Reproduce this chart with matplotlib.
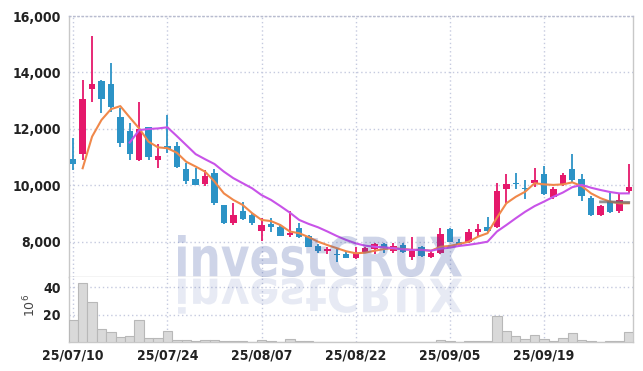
import numpy as np
import matplotlib
matplotlib.use("Agg")
import matplotlib.pyplot as plt
from matplotlib.textpath import TextPath
from matplotlib.patches import PathPatch
from matplotlib.font_manager import FontProperties
from matplotlib.transforms import Affine2D, IdentityTransform
from matplotlib.ticker import FuncFormatter

# daily candles, trading-day index 0..59
opens = [10940, 11100, 13400, 13710, 13590, 12410, 11930, 10900, 12060, 10900,
         11400, 11400, 10570, 10220, 10050, 10450, 9310, 8660, 9110, 8960,
         8400, 8630, 8540, 8250, 8510, 8210, 7870, 7680, 7580, 7580,
         7420, 7620, 7750, 7930, 7690, 7890, 7480, 7810, 7460, 7600,
         8450, 8010, 8010, 8370, 8540, 8520, 9870, 10090, 9910, 10080,
         10410, 9600, 10040, 10580, 10220, 9550, 8960, 9430, 9110, 9820]
highs = [11690, 13730, 15290, 13740, 14330, 12730, 12220, 12970, 12070, 11470,
         12500, 11550, 10810, 10610, 10550, 10570, 9320, 9370, 9430, 9020,
         8840, 8840, 8640, 9100, 8680, 8250, 7920, 7830, 7740, 7680,
         7830, 7830, 7950, 7980, 7980, 7980, 8170, 7860, 7720, 8480,
         8480, 8090, 8460, 8640, 8870, 10080, 10410, 10450, 10200, 10610,
         10690, 9960, 10430, 11120, 10410, 9610, 9310, 9720, 9720, 10760]
lows = [10550, 10900, 12970, 12560, 12610, 11350, 10900, 10880, 10900, 10610,
        11140, 10610, 10050, 10000, 9980, 9310, 8640, 8600, 8780, 8600,
        8050, 8370, 8210, 8190, 8140, 7810, 7620, 7560, 7280, 7420,
        7390, 7600, 7580, 7620, 7600, 7600, 7360, 7460, 7420, 7580,
        7990, 7860, 7950, 8170, 8370, 8480, 9390, 9870, 9510, 9940,
        9660, 9510, 9970, 10140, 9460, 8920, 8930, 9040, 9020, 9720]
closes = [10770, 13060, 13590, 13060, 12790, 11490, 11100, 11990, 11020, 11040,
          11290, 10670, 10170, 10020, 10340, 9370, 8680, 8960, 8810, 8660,
          8600, 8520, 8220, 8330, 8170, 7830, 7690, 7750, 7530, 7440,
          7600, 7780, 7920, 7810, 7860, 7640, 7690, 7520, 7620, 8280,
          8010, 7890, 8340, 8450, 8400, 9800, 10050, 10050, 9880, 10200,
          9700, 9870, 10370, 10200, 9630, 8960, 9270, 9070, 9490, 9940]

# moving average lines as drawn (start index, values)
ma_short_start = 1
ma_short = [10610, 11730, 12320, 12700, 12810, 12410, 12020, 11550, 11350,
            11320, 11160, 10840, 10670, 10490, 10140, 9720, 9490, 9310, 9020,
            8780, 8740, 8600, 8370, 8310, 8170, 8010, 7890, 7780, 7670,
            7600, 7620, 7690, 7750, 7780, 7750, 7720, 7720, 7690, 7830,
            7860, 7930, 8010, 8190, 8310, 8860, 9370, 9600, 9780, 10080,
            10040, 10020, 10040, 10110, 9980, 9720, 9550, 9430, 9370, 9370]
ma_long_start = 6
ma_long = [11520, 11960, 12000, 12020, 12060, 11750, 11430, 11110, 10930,
           10760, 10490, 10260, 10080, 9900, 9660, 9490, 9270, 9040, 8780,
           8640, 8520, 8370, 8210, 8070, 7950, 7870, 7830, 7810, 7780,
           7740, 7720, 7720, 7690, 7760, 7800, 7860, 7900, 7950, 8010,
           8370, 8600, 8840, 9070, 9270, 9430, 9600, 9750, 9940, 10020,
           9920, 9840, 9770, 9720, 9720]
gray_start = 56
gray_line = [9420, 9420, 9410, 9400]

# volume in millions
volume = [16.0, 42.7, 28.9, 9.4, 7.0, 3.5, 4.3, 15.7, 2.8, 2.8,
          7.9, 1.3, 1.4, 0.5, 1.5, 1.4, 0.6, 0.5, 0.5, 0.3,
          1.3, 0.7, 0.3, 2.2, 0.7, 0.6, 0.3, 0.3, 0.2, 0.3,
          0.2, 0.2, 0.2, 0.2, 0.2, 0.2, 0.3, 0.2, 0.3, 1.5,
          0.7, 0.3, 0.7, 0.7, 0.7, 18.9, 8.0, 4.4, 2.2, 5.1,
          2.2, 0.7, 2.9, 6.3, 1.5, 0.7, 0.2, 0.7, 0.7, 7.0]

date_pos = [0, 10, 20, 30, 40, 50]
date_labels = ["25/07/10", "25/07/24", "25/08/07", "25/08/22", "25/09/05", "25/09/19"]
price_ticks = [8000, 10000, 12000, 14000, 16000]
vol_ticks = [20, 40]

UP = "#E5186B"
DOWN = "#2C93C6"
GRID = "#C5CADF"
SPINE = "#C8C8C8"
tick_font = dict(family="DejaVu Sans", stretch="condensed", weight="bold", size=10)

W, H = 643, 371
fig = plt.figure(figsize=(W / 100, H / 100), dpi=100)
ax = fig.add_axes([69 / W, (H - 277) / H, (633 - 69) / W, (277 - 16) / H])
axv = fig.add_axes([69 / W, (H - 342) / H, (633 - 69) / W, (342 - 277) / H], sharex=ax)

x = np.arange(len(opens))
o = np.array(opens); c = np.array(closes)
colors = [UP if cc >= oo else DOWN for oo, cc in zip(o, c)]
ax.vlines(x, lows, highs, colors=colors, linewidth=1.3, zorder=3)
body = np.maximum(np.abs(c - o), 30)
ax.bar(x, body, bottom=np.minimum(o, c), width=0.68, color=colors, linewidth=0, zorder=4)

ax.plot(np.arange(ma_short_start, ma_short_start + len(ma_short)), ma_short,
        color="#F0884A", linewidth=1.5, zorder=5)
ax.plot(np.arange(ma_long_start, ma_long_start + len(ma_long)), ma_long,
        color="#C853E8", linewidth=1.5, zorder=5)
ax.plot(np.arange(gray_start, gray_start + len(gray_line)), gray_line,
        color="#6E6E6E", linewidth=2, alpha=0.75, zorder=6)

axv.bar(x, volume, width=1.0, color="#D9D9D9", edgecolor="#B8B8B8", linewidth=0.8, zorder=3)

ax.set_xlim(-0.45, 59.45)
ax.set_ylim(6760, 16000)
axv.set_ylim(0, 47.3)

for a in (ax, axv):
    a.grid(True, linestyle=(0, (1, 2)), color=GRID, linewidth=1)
    a.set_axisbelow(True)
    a.tick_params(length=0, colors="#222222")
    for s in a.spines.values():
        s.set_color(SPINE)
        s.set_linewidth(1)
ax.spines["top"].set_linestyle((0, (1, 2)))
ax.spines["top"].set_color("#B8BCCF")
axv.spines["top"].set_visible(False)

ax.set_yticks(price_ticks)
ax.yaxis.set_major_formatter(FuncFormatter(lambda v, p: f"{int(v):,}"))
ax.tick_params(axis="x", labelbottom=False)
axv.set_yticks(vol_ticks)
axv.set_xticks(date_pos)
axv.set_xticklabels(date_labels)
for lab in ax.get_yticklabels() + axv.get_yticklabels() + axv.get_xticklabels():
    lab.set_fontproperties(FontProperties(**tick_font))
ax.tick_params(axis="y", pad=6)
axv.tick_params(axis="y", pad=6)
axv.tick_params(axis="x", pad=5)
fig.text(30 / W, 1 - 305 / H, "10$^6$", rotation=90, ha="center", va="center",
         fontsize=9, color="#444444")

# watermark with mirrored reflection
tp = TextPath((0, 0), "investCRUX", size=100, prop=FontProperties(family="DejaVu Sans", weight="bold"))
ext = tp.get_extents()
sx = (462 - 178) / ext.width
sy = 42 / ext.height
base = Affine2D().translate(-ext.x0, -ext.y0)
fig.add_artist(PathPatch(tp, transform=base + Affine2D().scale(sx, sy).translate(178, H - 277) + IdentityTransform(),
                         facecolor="#3C55A5", edgecolor="none", alpha=0.25, zorder=10))
fig.add_artist(PathPatch(tp, transform=base + Affine2D().scale(sx, -sy * 0.85).translate(178, H - 278) + IdentityTransform(),
                         facecolor="#3C55A5", edgecolor="none", alpha=0.12, zorder=10))

fig.savefig("out.png", dpi=100)
